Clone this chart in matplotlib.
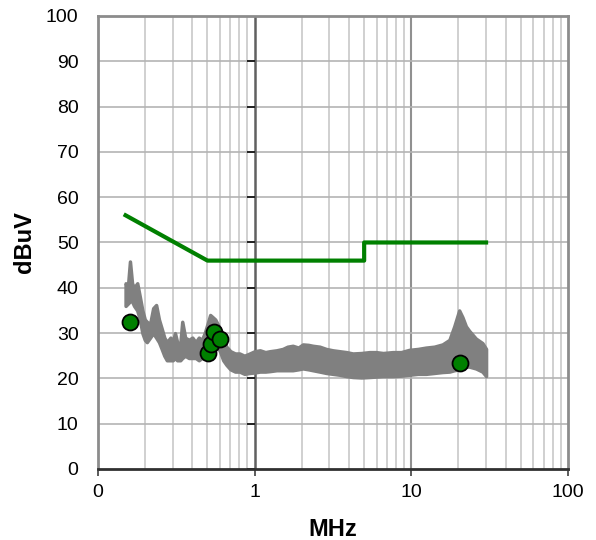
import matplotlib
matplotlib.use("Agg")
import matplotlib.pyplot as plt

plt.rcParams['font.family'] = ['Liberation Sans', 'DejaVu Sans']

# limit line (MHz, dBuV)
limit_f = [0.15, 0.5, 5.0, 5.0, 30.0]
limit_db = [56, 46, 46, 50, 50]

# measured scan envelope (MHz, upper dBuV, lower dBuV)
scan_f = [0.150, 0.155, 0.160, 0.165, 0.170, 0.178, 0.185, 0.192, 0.199, 0.205,
          0.215, 0.225, 0.235, 0.245, 0.255, 0.265, 0.275, 0.29, 0.30, 0.31,
          0.32, 0.335, 0.345, 0.36, 0.38, 0.40, 0.42, 0.44, 0.46, 0.48,
          0.50, 0.52, 0.54, 0.56, 0.58, 0.60, 0.63, 0.66, 0.70, 0.75,
          0.80, 0.86, 0.93, 1.0, 1.08, 1.17, 1.25, 1.38, 1.51, 1.62,
          1.75, 1.9, 2.03, 2.2, 2.35, 2.6, 2.86, 3.15, 3.48, 3.85,
          4.23, 4.8, 5.4, 5.96, 6.6, 7.6, 8.6, 9.7, 11.0, 12.4,
          14.0, 15.8, 17.5, 18.8, 20.2, 21.2, 22.3, 23.4, 25.8, 28.4, 30.0]
scan_hi = [41, 40, 45.8, 41, 40, 41, 38, 35, 33, 32.5,
           32, 35.5, 36.2, 33, 31, 29, 28, 29, 28, 30,
           28, 27.5, 32.5, 29, 28.5, 29, 28, 29, 28.5, 30,
           32, 34, 33.5, 33, 32, 31, 29, 27, 26, 25.5,
           25.5, 25, 25.5, 26, 26.2, 25.8, 26, 26.2, 26.5, 27,
           27.2, 26.8, 27.5, 27.4, 27.2, 27, 26.5, 26.2, 26, 25.8,
           25.5, 25.6, 25.8, 25.8, 25.6, 25.8, 25.8, 26.3, 26.5, 26.8,
           27, 27.5, 28.5, 31.5, 35, 33.5, 31.5, 30.5, 28.8, 27.8, 26.5]
scan_lo = [36, 36.5, 37, 37, 36, 35, 33, 30, 28.5, 28,
           29, 30, 29, 28, 26.5, 25, 24, 24, 24, 24.5,
           24, 24, 24.5, 25, 24.5, 24.5, 24.5, 24, 24.5, 25,
           26, 27.5, 28.5, 28, 27, 26, 24, 23, 22, 21.5,
           21.5, 21, 21.2, 21.3, 21.5, 21.5, 21.6, 21.8, 21.8, 21.8,
           21.8, 22, 22.2, 22, 21.8, 21.5, 21.2, 21, 20.8, 20.5,
           20.3, 20.2, 20.3, 20.4, 20.5, 20.5, 20.6, 20.8, 21, 21,
           21.2, 21.4, 21.5, 21.8, 22, 22.5, 22.6, 22.6, 22.2, 21.5, 20.5]

# quasi-peak points
qp_f = [0.161, 0.504, 0.530, 0.548, 0.602, 20.5]
qp_db = [32.5, 25.5, 27.7, 30.3, 28.8, 23.5]

fig = plt.figure(figsize=(5.96, 5.40), dpi=100)
ax = fig.add_axes([0.1644, 0.1315, 0.7886, 0.8389])
ax.set_xscale('log')
ax.set_xlim(0.1, 100)
ax.set_ylim(0, 100)

# grid
for dec in [0.1, 1, 10]:
    for m in range(2, 10):
        ax.axvline(dec * m, color='#c8c8c8', lw=1.2, zorder=0)
ax.axvline(10, color='#909090', lw=1.5, zorder=0)
for yv in range(10, 100, 10):
    ax.axhline(yv, color='#b4b4b4', lw=1.2, zorder=0)
ax.axvline(1, color='#606060', lw=1.8, zorder=1)
ax.plot([1] * 11, list(range(0, 101, 10)), linestyle='none', marker=0,
        markersize=6, mew=1.4, color='#202020', zorder=1)

ax.fill_between(scan_f, scan_lo, scan_hi, color='#808080', lw=2.5,
                edgecolor='#808080', zorder=2)
ax.plot(limit_f, limit_db, color='#008000', lw=3, zorder=3)
ax.plot(qp_f, qp_db, linestyle='none', marker='o', markersize=11.5,
        markerfacecolor='#008000', markeredgecolor='black', mew=1.3, zorder=4)

ax.set_xticks([0.1, 1, 10, 100])
ax.set_xticklabels(['0', '1', '10', '100'])
ax.xaxis.set_minor_locator(matplotlib.ticker.NullLocator())
ax.set_yticks(range(0, 101, 10))
ax.tick_params(axis='x', length=5, width=1.2, color='#404040', labelsize=14, pad=6)
ax.tick_params(axis='y', length=0, labelsize=14, pad=14)

for s in ['left', 'top', 'right']:
    ax.spines[s].set_color('#8c8c8c')
    ax.spines[s].set_linewidth(2)
ax.spines['bottom'].set_color('#303030')
ax.spines['bottom'].set_linewidth(2)

ax.set_xlabel('MHz', fontsize=17, fontweight='bold', labelpad=12)
ax.set_ylabel('dBuV', fontsize=17, fontweight='bold', labelpad=7)

fig.savefig('out.png', dpi=100)
